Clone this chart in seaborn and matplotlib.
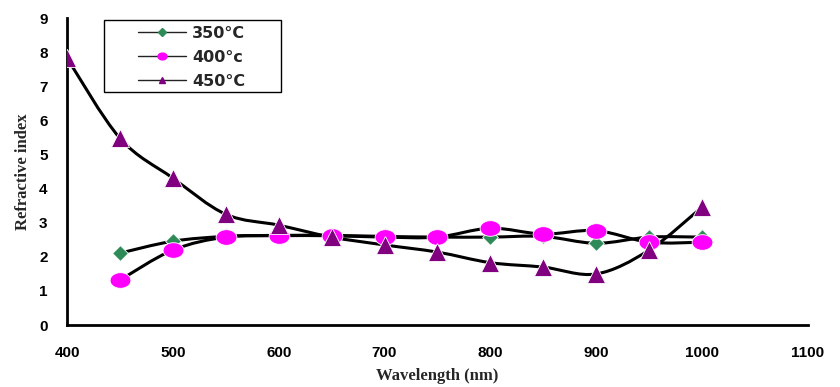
import numpy as np
import pandas as pd
import seaborn as sns
import matplotlib
matplotlib.use("Agg")
import matplotlib.pyplot as plt
from matplotlib.path import Path
from matplotlib.patches import PathPatch, Rectangle
from matplotlib.lines import Line2D

wl_350 = [450, 500, 550, 600, 650, 700, 750, 800, 850, 900, 950, 1000]
n_350 = [2.11, 2.46, 2.6, 2.63, 2.63, 2.6, 2.58, 2.58, 2.6, 2.4, 2.58, 2.58]
wl_400 = [450, 500, 550, 600, 650, 700, 750, 800, 850, 900, 950, 1000]
n_400 = [1.32, 2.2, 2.58, 2.62, 2.62, 2.58, 2.58, 2.84, 2.67, 2.77, 2.43, 2.43]
wl_450 = [400, 450, 500, 550, 600, 650, 700, 750, 800, 850, 900, 950, 1000]
n_450 = [7.83, 5.48, 4.31, 3.25, 2.93, 2.58, 2.35, 2.14, 1.83, 1.7, 1.5, 2.2, 3.46]
labels = ["350°C", "400°c", "450°C"]

sns.set_style("white")
fig = plt.figure(figsize=(8.4, 3.87), dpi=100)
ax = fig.add_axes([0.0798, 0.160, 0.882, 0.793])

def smooth_path(xs, ys):
    xs = np.asarray(xs, float); ys = np.asarray(ys, float)
    verts = [(xs[0], ys[0])]
    codes = [Path.MOVETO]
    n = len(xs)
    t = 1 / 6
    for i in range(n - 1):
        p0 = (xs[max(i - 1, 0)], ys[max(i - 1, 0)])
        p1 = (xs[i], ys[i])
        p2 = (xs[i + 1], ys[i + 1])
        p3 = (xs[min(i + 2, n - 1)], ys[min(i + 2, n - 1)])
        c1 = (p1[0] + (p2[0] - p0[0]) * t, p1[1] + (p2[1] - p0[1]) * t)
        c2 = (p2[0] - (p3[0] - p1[0]) * t, p2[1] - (p3[1] - p1[1]) * t)
        verts += [c1, c2, p2]
        codes += [Path.CURVE4] * 3
    return Path(verts, codes)

th = np.linspace(0, 2 * np.pi, 41)
ellipse = Path(np.column_stack([np.cos(th), 0.75 * np.sin(th)]), closed=True)

series = [
    (wl_350, n_350, "D", "#2E8B57", 8),
    (wl_400, n_400, ellipse, "#FF00FF", 15),
    (wl_450, n_450, "^", "#800080", 13),
]

for xs, ys, m, c, s in series:
    ax.add_patch(PathPatch(smooth_path(xs, ys), facecolor="none", edgecolor="black", lw=2.2, zorder=2))

for (xs, ys, m, c, s), lab in zip(series, labels):
    df = pd.DataFrame({"x": xs, "y": ys})
    sns.scatterplot(data=df, x="x", y="y", marker=m, color=c, s=s ** 2,
                    edgecolor="white", linewidth=0.6, ax=ax, zorder=3)

ax.set_xlim(400, 1100)
ax.set_ylim(0, 9)
ax.set_xticks(range(400, 1101, 100))
ax.set_yticks(range(0, 10))
for sp in ["top", "right"]:
    ax.spines[sp].set_visible(False)
for sp in ["left", "bottom"]:
    ax.spines[sp].set_color("black")
    ax.spines[sp].set_linewidth(2)
ax.tick_params(axis="both", direction="out", length=5, width=2, colors="black",
               labelsize=11)
ax.tick_params(axis="x", pad=10)
ax.tick_params(axis="y", pad=9)
for lbl in ax.get_xticklabels() + ax.get_yticklabels():
    lbl.set_fontweight("bold")
    lbl.set_family("Liberation Sans")

ax.set_xlabel("Wavelength (nm)", family="Liberation Serif", fontweight="bold",
              fontsize=12, labelpad=6)
ax.set_ylabel("Refractive index", family="Liberation Serif", fontweight="bold",
              fontsize=12, labelpad=6)

# legend frame
fig.patches.append(Rectangle((104 / 840, 1 - 92 / 387), 177 / 840, 72 / 387,
                             transform=fig.transFigure, facecolor="white",
                             edgecolor="black", lw=1, zorder=4))

handles = [Line2D([], [], color="#222222", lw=1, marker=m, markerfacecolor=c,
                  markeredgecolor=c, markersize=4.5 if i != 1 else 6.5)
           for i, (xs, ys, m, c, s) in enumerate(series)]
leg = fig.legend(handles, labels, loc="upper left",
                 bbox_to_anchor=(138 / 840, 1 - 26 / 387), bbox_transform=fig.transFigure,
                 frameon=False, handlelength=3.0, handletextpad=0.4,
                 prop={"family": "DejaVu Sans", "weight": "bold", "size": 11.5},
                 borderpad=0, labelspacing=0.56, borderaxespad=0)
leg.set_zorder(5)

fig.savefig("out.png", dpi=100)
